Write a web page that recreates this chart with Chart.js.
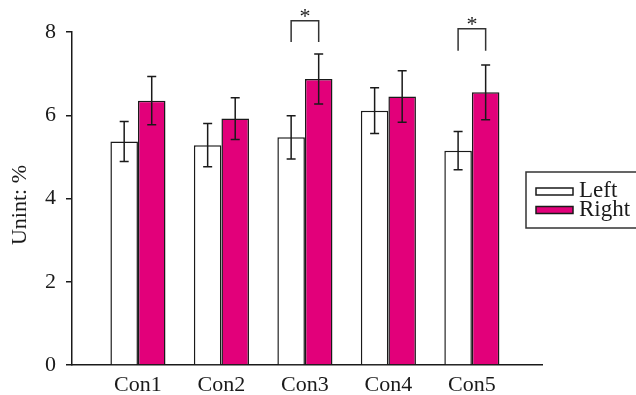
<!DOCTYPE html>
<html>
<head>
<meta charset="utf-8">
<script src="https://cdn.jsdelivr.net/npm/chart.js@4/dist/chart.umd.min.js"></script>
<style>
  html, body { margin: 0; padding: 0; background: #fff; }
  #wrap { width: 636px; height: 395px; }
</style>
</head>
<body>
<div id="wrap"><canvas id="c" width="636" height="395"></canvas></div>
<script>
// Conditions on the x axis
const categories = ['Con1', 'Con2', 'Con3', 'Con4', 'Con5'];
// Mean values (%) for each side
const leftValues  = [5.37, 5.28, 5.47, 6.11, 5.15];
const rightValues = [6.35, 5.92, 6.87, 6.45, 6.55];
// Error bar half-lengths
const leftErrors  = [0.48, 0.52, 0.52, 0.55, 0.46];
const rightErrors = [0.58, 0.50, 0.60, 0.62, 0.66];
// Y axis tick values
const yTicks = [0, 2, 4, 6, 8];
// Significant pairs: category index, bracket top value, bracket leg end value
const sigIndex  = [2, 4];
const sigTop    = [8.27, 8.08];
const sigLegEnd = [7.76, 7.55];

const MAGENTA = '#E2007A';
const INK = '#1a1a1a';
const SERIF = '"Liberation Serif", "Times New Roman", serif';

const toPoints = vals => vals.map((v, i) => ({ x: i, y: v }));

const errorBars = {
  id: 'errorBars',
  afterDatasetsDraw(chart) {
    const ctx = chart.ctx, y = chart.scales.y;
    const errs = [leftErrors, rightErrors];
    ctx.save();
    ctx.strokeStyle = INK;
    ctx.lineWidth = 1.5;
    chart.data.datasets.forEach((ds, d) => {
      chart.getDatasetMeta(d).data.forEach((bar, i) => {
        const v = ds.data[i].y, e = errs[d][i];
        const yt = y.getPixelForValue(v + e), yb = y.getPixelForValue(v - e);
        ctx.beginPath();
        ctx.moveTo(bar.x, yt); ctx.lineTo(bar.x, yb);
        ctx.moveTo(bar.x - 4.5, yt); ctx.lineTo(bar.x + 4.5, yt);
        ctx.moveTo(bar.x - 4.5, yb); ctx.lineTo(bar.x + 4.5, yb);
        ctx.stroke();
      });
    });
    ctx.restore();
  }
};

const annotations = {
  id: 'annotations',
  afterDraw(chart) {
    const ctx = chart.ctx, y = chart.scales.y;
    const m0 = chart.getDatasetMeta(0), m1 = chart.getDatasetMeta(1);
    ctx.save();
    // significance brackets
    ctx.strokeStyle = '#333';
    ctx.lineWidth = 1.5;
    sigIndex.forEach((idx, k) => {
      const x0 = m0.data[idx].x, x1 = m1.data[idx].x;
      const yt = y.getPixelForValue(sigTop[k]), yl = y.getPixelForValue(sigLegEnd[k]);
      ctx.beginPath();
      ctx.moveTo(x0, yl); ctx.lineTo(x0, yt); ctx.lineTo(x1, yt); ctx.lineTo(x1, yl);
      ctx.stroke();
      ctx.fillStyle = INK;
      ctx.font = '22px ' + SERIF;
      ctx.textAlign = 'center';
      ctx.textBaseline = 'alphabetic';
      ctx.fillText('*', (x0 + x1) / 2, yt + 2);
    });

    // y axis title
    ctx.fillStyle = INK;
    ctx.font = '22px ' + SERIF;
    ctx.textAlign = 'center';
    ctx.textBaseline = 'middle';
    ctx.translate(20, 205);
    ctx.rotate(-Math.PI / 2);
    ctx.fillText('Unint: %', 0, 0);
    ctx.setTransform(1, 0, 0, 1, 0, 0);

    // legend box
    const lx = 526, ly = 172;
    ctx.strokeStyle = '#333';
    ctx.lineWidth = 1.5;
    ctx.strokeRect(lx, ly, 120, 56);
    ctx.font = '23px ' + SERIF;
    ctx.textAlign = 'left';
    ctx.textBaseline = 'alphabetic';
    chart.data.datasets.forEach((ds, d) => {
      const sy = ly + 16 + d * 18.5;
      ctx.fillStyle = ds.backgroundColor;
      ctx.fillRect(536, sy, 37, 7);
      ctx.strokeStyle = INK;
      ctx.lineWidth = 1.5;
      ctx.strokeRect(536, sy, 37, 7);
      ctx.fillStyle = INK;
      ctx.fillText(ds.label, 579, sy + 9);
    });
    ctx.restore();
  }
};

new Chart(document.getElementById('c'), {
  type: 'bar',
  data: {
    datasets: [
      { label: 'Left',  data: toPoints(leftValues),  backgroundColor: '#ffffff', borderColor: INK, borderWidth: 1.5 },
      { label: 'Right', data: toPoints(rightValues), backgroundColor: MAGENTA,   borderColor: INK, borderWidth: 1.5 }
    ]
  },
  options: {
    responsive: false,
    animation: false,
    events: [],
    layout: { padding: { top: 32, right: 94, left: 0, bottom: 0 } },
    datasets: { bar: { barPercentage: 1.0, categoryPercentage: 0.66 } },
    plugins: { legend: { display: false }, tooltip: { enabled: false } },
    scales: {
      x: {
        type: 'linear',
        offset: false,
        min: -0.79,
        max: 4.84,
        afterBuildTicks: s => { s.ticks = categories.map((_, i) => ({ value: i })); },
        afterFit: s => { s.height = 30; },
        grid: { display: false, offset: false },
        border: { display: true, color: INK, width: 1.5 },
        ticks: {
          autoSkip: false,
          maxRotation: 0,
          padding: -1,
          color: INK,
          font: { family: SERIF, size: 22 },
          callback: v => categories[v]
        }
      },
      y: {
        min: 0,
        max: 8,
        afterBuildTicks: s => { s.ticks = yTicks.map(v => ({ value: v })); },
        afterFit: s => { s.width = 72; },
        grid: { drawOnChartArea: false, drawTicks: true, tickLength: 6, color: INK, lineWidth: 1.5 },
        border: { display: true, color: INK, width: 1.5 },
        ticks: {
          padding: 10,
          color: INK,
          font: { family: SERIF, size: 22 }
        }
      }
    }
  },
  plugins: [errorBars, annotations]
});
</script>
</body>
</html>
